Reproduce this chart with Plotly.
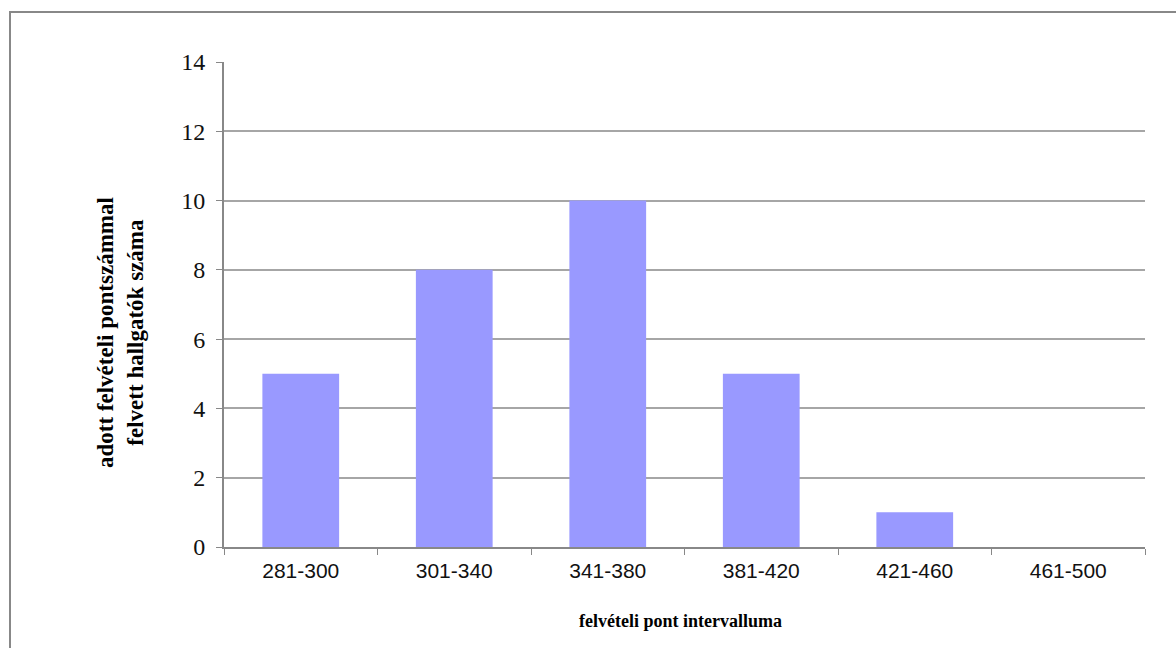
import plotly.graph_objects as go

categories = ["281-300", "301-340", "341-380", "381-420", "421-460", "461-500"]
counts = [5, 8, 10, 5, 1, 0]
y_ticks = [0, 2, 4, 6, 8, 10, 12, 14]

W, H = 1176, 648
L, R, T, B = 224, 31, 62, 101
pw, ph = W - L - R, H - T - B

fig = go.Figure(go.Bar(x=categories, y=counts, marker=dict(color="#9999FF", line=dict(width=0))))

fig.update_layout(
    width=W, height=H,
    margin=dict(l=L, r=R, t=T, b=B),
    paper_bgcolor="white", plot_bgcolor="white",
    bargap=0.5, showlegend=False,
    xaxis=dict(
        showline=True, linecolor="#888888", linewidth=2,
        ticks="outside", ticklen=6, tickcolor="#888888", tickson="boundaries",
        tickfont=dict(family="Liberation Sans", size=21, color="#111111"),
        ticklabelstandoff=4,
        showgrid=False, zeroline=False,
    ),
    yaxis=dict(
        range=[0, 14], tickvals=y_ticks,
        showline=True, linecolor="#888888", linewidth=2,
        ticks="outside", ticklen=6, tickcolor="#888888",
        showgrid=True, gridcolor="#A6A6A6", gridwidth=2,
        zeroline=False,
        ticklabelstandoff=6,
        tickfont=dict(family="Liberation Serif", size=24, color="#111111"),
    ),
    shapes=[dict(
        type="rect", xref="paper", yref="paper",
        x0=(10 - L) / pw, x1=(W + 10 - L) / pw,
        y0=-(B + 20) / ph, y1=(H - B - 12) / ph,
        line=dict(color="#888888", width=2), fillcolor="rgba(0,0,0,0)",
    )],
    annotations=[
        dict(
            text="<b>adott felvételi pontszámmal<br>felvett hallgatók száma</b>",
            xref="paper", yref="paper",
            x=(120 - L) / pw, y=(H - B - 333) / ph,
            xanchor="center", yanchor="middle", textangle=-90,
            showarrow=False,
            font=dict(family="Liberation Serif", size=23, color="black"),
        ),
        dict(
            text="<b>felvételi pont intervalluma</b>",
            xref="paper", yref="paper",
            x=(680 - L) / pw, y=-(621 - (H - B)) / ph,
            xanchor="center", yanchor="middle",
            showarrow=False,
            font=dict(family="Liberation Serif", size=18, color="black"),
        ),
    ],
)

fig.write_html("out.html")
